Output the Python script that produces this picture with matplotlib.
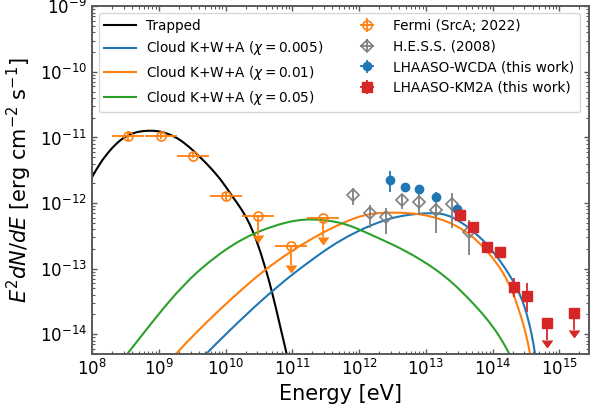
import numpy as np
import matplotlib
matplotlib.use("Agg")
import matplotlib.pyplot as plt
from matplotlib.lines import Line2D
from matplotlib.path import Path
from matplotlib.patches import PathPatch

# ---------------- data ----------------
# model curves (log10 E [eV], log10 E^2dN/dE [erg cm^-2 s^-1])
trapped_logE = [8.000, 8.120, 8.270, 8.419, 8.569, 8.719, 8.894, 9.034, 9.168, 9.318, 9.513,
                9.768, 9.947, 10.093, 10.217, 10.337, 10.467, 10.591, 10.692, 10.831, 10.916, 10.936]
trapped_logF = [-11.607, -11.389, -11.191, -11.038, -10.947, -10.904, -10.893, -10.909, -10.954,
                -11.030, -11.191, -11.450, -11.663, -11.887, -12.059, -12.258, -12.563, -12.970,
                -13.325, -13.935, -14.300, -14.392]

c005_logE = [9.659, 9.708, 10.067, 10.542, 11.015, 11.516, 11.715, 11.965, 12.214, 12.464, 12.714,
             12.963, 13.213, 13.412, 13.662, 13.912, 14.161, 14.362, 14.486, 14.586, 14.636, 14.644]
c005_logF = [-14.35, -14.30, -13.935, -13.477, -13.070, -12.700, -12.574, -12.436, -12.323, -12.232,
             -12.181, -12.155, -12.151, -12.212, -12.384, -12.613, -12.944, -13.274, -13.579,
             -13.985, -14.30, -14.35]

c01_logE = [9.212, 9.258, 9.592, 10.067, 10.517, 10.966, 11.465, 11.965, 12.214, 12.509, 12.714,
            12.963, 13.213, 13.412, 13.662, 13.912, 14.161, 14.311, 14.411, 14.501, 14.561, 14.571]
c01_logF = [-14.35, -14.30, -13.935, -13.477, -13.070, -12.741, -12.436, -12.207, -12.155, -12.143,
            -12.151, -12.174, -12.242, -12.319, -12.471, -12.715, -13.046, -13.375, -13.680,
            -13.985, -14.30, -14.35]

c05_logE = [8.490, 8.529, 8.809, 9.168, 9.568, 10.067, 10.467, 10.916, 11.265, 11.715, 11.965,
            12.214, 12.464, 12.714, 12.913, 13.163, 13.412, 13.662, 13.912, 14.112, 14.251, 14.277]
c05_logF = [-14.35, -14.30, -13.935, -13.477, -13.040, -12.650, -12.436, -12.284, -12.232, -12.288,
            -12.384, -12.500, -12.613, -12.741, -12.857, -13.020, -13.223, -13.477, -13.756,
            -14.037, -14.30, -14.35]

# Fermi (SrcA; 2022)
fermi_E = [3.50e8, 1.07e9, 3.29e9, 1.01e10, 3.10e10, 9.46e10, 2.92e11]
fermi_F = [1.06e-11, 1.06e-11, 5.30e-12, 1.30e-12, 6.40e-13, 2.20e-13, 5.90e-13]
fermi_Ferr = [1.9e-12, 1.0e-12, 5.0e-13, 1.8e-13, 3.1e-13, 1.07e-13, 2.87e-13]
fermi_ul = [False, False, False, False, True, True, True]
fermi_bin_halfwidth_dex = 0.24

# H.E.S.S. (2008)
hess_E = [8.2e11, 1.46e12, 2.54e12, 4.45e12, 8.0e12, 1.42e13, 2.49e13, 4.44e13]
hess_F = [1.34e-12, 7.1e-13, 6.2e-13, 1.10e-12, 1.03e-12, 7.85e-13, 9.7e-13, 3.6e-13]
hess_err_lo = [4.1e-13, 2.9e-13, 2.86e-13, 3.0e-13, 3.7e-13, 4.4e-13, 5.6e-13, 2.0e-13]
hess_err_hi = [3.7e-13, 2.4e-13, 2.3e-13, 2.3e-13, 3.8e-13, 5.8e-13, 4.4e-13, 1.9e-13]

# LHAASO-WCDA
wcda_E = [2.91e12, 4.89e12, 8.0e12, 1.44e13, 2.90e13]
wcda_F = [2.28e-12, 1.78e-12, 1.64e-12, 1.24e-12, 8.1e-13]
wcda_err_lo = [7.8e-13, 2.9e-13, 1.6e-13, 2.1e-13, 0.8e-13]
wcda_err_hi = [8.2e-13, 2.5e-13, 1.8e-13, 2.5e-13, 0.9e-13]

# LHAASO-KM2A
km2a_E = [3.25e13, 5.09e13, 8.26e13, 1.29e14, 2.07e14, 3.28e14, 6.55e14, 1.64e15]
km2a_F = [6.59e-13, 4.33e-13, 2.12e-13, 1.82e-13, 5.2e-14, 3.87e-14, 1.5e-14, 2.11e-14]
km2a_err_lo = [0.7e-13, 0.45e-13, 0.22e-13, 0.19e-13, 1.46e-14, 1.66e-14, 0.68e-14, 0.96e-14]
km2a_err_hi = [0.7e-13, 0.45e-13, 0.22e-13, 0.19e-13, 2.0e-14, 2.2e-14, 0.0, 0.0]
km2a_ul = [False, False, False, False, False, False, True, True]

labels_lines = ["Trapped",
                r"Cloud K+W+A ($\chi = 0.005$)",
                r"Cloud K+W+A ($\chi = 0.01$)",
                r"Cloud K+W+A ($\chi = 0.05$)"]
labels_pts = ["Fermi (SrcA; 2022)", "H.E.S.S. (2008)",
              "LHAASO-WCDA (this work)", "LHAASO-KM2A (this work)"]

# ---------------- plot ----------------
C_BLUE, C_ORANGE, C_GREEN, C_RED, C_GRAY = "#1f77b4", "#ff7f0e", "#2ca02c", "#d62728", "#808080"


def smooth_curve_path(logx, logy):
    """Uniform cubic B-spline (clamped) through the read points, drawn as Bezier path."""
    P = np.column_stack([logx, logy])
    P = np.vstack([P[0], P[0], P, P[-1], P[-1]])
    verts, codes = [], []
    for i in range(1, len(P) - 2):
        p0, p1, p2, p3 = P[i - 1], P[i], P[i + 1], P[i + 2]
        b0 = (p0 + 4 * p1 + p2) / 6
        b1 = (2 * p1 + p2) / 3
        b2 = (p1 + 2 * p2) / 3
        b3 = (p1 + 4 * p2 + p3) / 6
        if not verts:
            verts.append(b0)
            codes.append(Path.MOVETO)
        verts += [b1, b2, b3]
        codes += [Path.CURVE4] * 3
    return Path(10 ** np.array(verts), codes)


fig = plt.figure(figsize=(5.92, 4.13), dpi=100)
ax = fig.add_axes([0.1554, 0.1429, 0.8390, 0.8419])
ax.set_xscale("log")
ax.set_yscale("log")
ax.set_xlim(1e8, 2.75e15)
ax.set_ylim(5e-15, 1e-9)

lw = 1.5
curve_handles = []
for lx, ly, col in [(trapped_logE, trapped_logF, "black"),
                    (c005_logE, c005_logF, C_BLUE),
                    (c01_logE, c01_logF, C_ORANGE),
                    (c05_logE, c05_logF, C_GREEN)]:
    ax.add_patch(PathPatch(smooth_curve_path(lx, ly), fill=False, edgecolor=col, lw=lw,
                           zorder=2, capstyle="butt"))
    curve_handles.append(Line2D([], [], color=col, lw=lw))

# Fermi
fE = np.array(fermi_E); fF = np.array(fermi_F); fErr = np.array(fermi_Ferr)
ful = np.array(fermi_ul)
fxlo = fE * (1 - 10 ** -fermi_bin_halfwidth_dex)
fxhi = fE * (10 ** fermi_bin_halfwidth_dex - 1)
det = ~ful
h_fermi = ax.errorbar(fE[det], fF[det], xerr=[fxlo[det], fxhi[det]], yerr=fErr[det],
                      fmt="o", ms=6.5, mfc="none", mec=C_ORANGE, mew=1.2,
                      color=C_ORANGE, ecolor=C_ORANGE, elinewidth=1.3, capsize=0, zorder=5)
ax.errorbar(fE[ful], fF[ful], xerr=[fxlo[ful], fxhi[ful]],
            fmt="o", ms=6.5, mfc="none", mec=C_ORANGE, mew=1.2,
            color=C_ORANGE, ecolor=C_ORANGE, elinewidth=1.3, capsize=0, zorder=5)
ax.errorbar(fE[ful], fF[ful], yerr=[fErr[ful], np.zeros(ful.sum())], uplims=True,
            fmt="none", color=C_ORANGE, ecolor=C_ORANGE, elinewidth=1.3, capsize=3.3,
            mfc=C_ORANGE, mec=C_ORANGE, zorder=5)

# HESS
hE = np.array(hess_E)
h_hess = ax.errorbar(hE, hess_F, xerr=np.zeros(len(hE)), yerr=[hess_err_lo, hess_err_hi],
                     fmt="D", ms=5.8, mfc="none", mec=C_GRAY, mew=1.2,
                     color=C_GRAY, ecolor=C_GRAY, elinewidth=1.3, capsize=0, zorder=5)

# WCDA
h_wcda = ax.errorbar(wcda_E, wcda_F, xerr=np.zeros(len(wcda_E)), yerr=[wcda_err_lo, wcda_err_hi],
                     fmt="o", ms=6, color=C_BLUE, ecolor=C_BLUE, elinewidth=1.3,
                     capsize=0, zorder=6)

# KM2A
kE = np.array(km2a_E); kF = np.array(km2a_F); kul = np.array(km2a_ul)
klo = np.array(km2a_err_lo); khi = np.array(km2a_err_hi)
h_km2a = ax.errorbar(kE[~kul], kF[~kul], xerr=np.zeros((~kul).sum()),
                     yerr=[klo[~kul], khi[~kul]],
                     fmt="s", ms=6.5, color=C_RED, ecolor=C_RED, elinewidth=1.3,
                     capsize=0, zorder=6)
ax.errorbar(kE[kul], kF[kul], fmt="s", ms=6.5, color=C_RED, zorder=6)
ax.errorbar(kE[kul], kF[kul], yerr=[klo[kul], khi[kul]], uplims=True,
            fmt="none", color=C_RED, ecolor=C_RED, elinewidth=1.3, capsize=3.3,
            mfc=C_RED, mec=C_RED, zorder=6)

ax.set_xlabel("Energy [eV]", fontsize=15)
ax.set_ylabel(r"$E^2dN/dE$ [erg cm$^{-2}$ s$^{-1}$]", fontsize=15)

for s in ax.spines.values():
    s.set_color("0.35")
    s.set_linewidth(1.4)
ax.tick_params(which="both", direction="in", top=True, right=True, colors="0.35",
               labelcolor="black", labelsize=12)
ax.tick_params(which="major", length=3.5, width=1.0)
ax.tick_params(which="minor", length=2.0, width=0.8)
ax.xaxis.set_major_locator(matplotlib.ticker.LogLocator(base=10, numticks=20))
ax.xaxis.set_minor_locator(matplotlib.ticker.LogLocator(base=10, subs=np.arange(2, 10), numticks=20))
ax.yaxis.set_major_locator(matplotlib.ticker.LogLocator(base=10, numticks=20))
ax.yaxis.set_minor_locator(matplotlib.ticker.LogLocator(base=10, subs=np.arange(2, 10), numticks=20))

ax.legend(curve_handles + [h_fermi, h_hess, h_wcda, h_km2a],
          labels_lines + labels_pts, loc="upper left", ncol=2, fontsize=9.8,
          handlelength=2.3)

fig.savefig("out.png", dpi=100)
